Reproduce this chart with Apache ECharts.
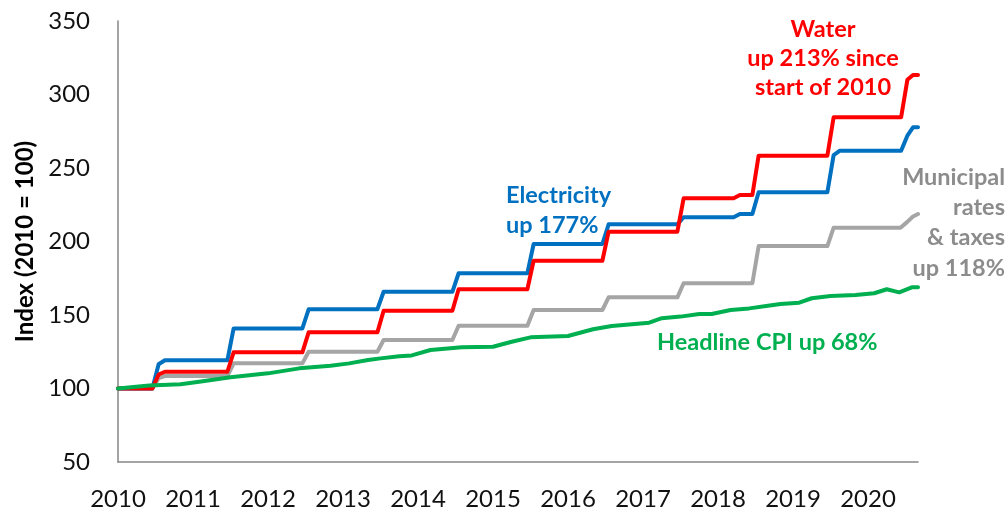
<!DOCTYPE html>
<html>
<head>
<meta charset="utf-8">
<script src="https://cdn.jsdelivr.net/npm/echarts@6/dist/echarts.min.js"></script>
<style>
  html, body { margin: 0; padding: 0; background: #fff; }
  #chart { width: 1008px; height: 512px; }
</style>
</head>
<body>
<div id="chart"></div>
<script>
// months counted from Jan 2010 (0) to Sep 2020 (128)
const lastMonth = 128
const yearLabels = ['2010', '2011', '2012', '2013', '2014', '2015', '2016', '2017', '2018', '2019', '2020']

// tariff levels and the month each level starts
const elecMonths = [0, 6.5, 7.5, 18.5, 30.5, 42.5, 54.5, 66.5, 78.5, 90.5, 99.5, 102.5, 114.5, 115.5, 126.3, 127.2]
const elecLevels = [100, 116.5, 119.2, 140.9, 153.9, 165.8, 178.4, 198.3, 211.7, 216.5, 218.7, 233.5, 258.8, 261.8, 272, 277.7]

const waterMonths = [0, 6.5, 7.5, 18.5, 30.5, 42.5, 54.5, 66.5, 78.5, 90.5, 99.5, 102.5, 114.5, 126.3, 127.2]
const waterLevels = [100, 109.5, 111.4, 124.6, 138.2, 152.9, 167.5, 186.9, 206.7, 229.4, 231.6, 258.4, 284.5, 310, 313.3]

const muniMonths = [0, 6.5, 7.5, 18.5, 30.5, 42.5, 54.5, 66.5, 78.5, 90.5, 102.5, 114.5, 126.2, 127.2, 128]
const muniLevels = [100, 107, 108.5, 117.1, 125, 133, 142.7, 153.4, 162, 171.6, 196.9, 209.4, 213, 217, 218.7]

// headline CPI readings
const cpiMonths = [0, 5, 10, 13, 18, 24, 29, 34, 37, 40, 42, 45, 47, 50, 55, 60, 63, 66, 72, 76, 79, 85, 87, 90, 93, 95, 98, 101, 104, 106, 109, 111, 114, 118, 121, 123, 125, 127, 128]
const cpiValues = [100, 102, 102.9, 104.6, 107.6, 110.3, 113.7, 115.5, 117.1, 119.4, 120.5, 122, 122.5, 126.2, 128, 128.4, 131.8, 134.8, 135.7, 140.3, 142.5, 144.8, 147.8, 148.9, 150.7, 150.7, 153.4, 154.5, 156.3, 157.5, 158.4, 161.4, 162.9, 163.6, 164.8, 167.5, 165.4, 168.8, 168.8]

// each level is held until a month before the next one starts
function steps(months, levels) {
  const out = []
  months.forEach((m, i) => {
    out.push([m, levels[i]])
    const next = i < months.length - 1 ? months[i + 1] - 1 : lastMonth
    if (next > m) out.push([next, levels[i]])
  })
  return out
}

const font = 'Lato, "Open Sans", sans-serif'

function line(name, data, color) {
  return {
    name: name,
    type: 'line',
    data: data,
    symbol: 'none',
    lineStyle: { color: color, width: 4, cap: 'round', join: 'round' },
    z: 2,
  }
}

// annotation text, x is the anchor for the given alignment
function note(lines, x, y, color, align, lh) {
  return {
    type: 'text',
    x: x,
    y: y,
    style: {
      text: lines.join('\n'),
      fill: color,
      font: 'bold 23.5px ' + font,
      lineHeight: lh,
      align: align,
      verticalAlign: 'top',
    },
  }
}

const chart = echarts.init(document.getElementById('chart'))
chart.setOption({
  animation: false,
  grid: { left: 118, right: 90, top: 21, bottom: 50 },
  xAxis: {
    type: 'value',
    min: 0,
    max: lastMonth,
    interval: 12,
    axisLine: { show: true, lineStyle: { color: '#868686', width: 1.5 } },
    axisTick: { show: false },
    splitLine: { show: false },
    axisLabel: {
      margin: 25,
      fontSize: 24,
      fontFamily: font,
      color: '#111',
      showMaxLabel: false,
      formatter: (v) => (v % 12 === 0 ? yearLabels[v / 12] : ''),
    },
  },
  yAxis: {
    type: 'value',
    min: 50,
    max: 350,
    interval: 50,
    name: 'Index (2010 = 100)',
    nameLocation: 'middle',
    nameRotate: 90,
    nameGap: 81,
    nameTextStyle: { fontSize: 24, fontWeight: 'bold', fontFamily: font, color: '#000' },
    axisLine: { show: true, lineStyle: { color: '#868686', width: 1.5 } },
    axisTick: { show: false },
    splitLine: { show: false },
    axisLabel: { margin: 28, fontSize: 24, fontFamily: font, color: '#111' },
  },
  series: [
    line('Municipal rates & taxes', steps(muniMonths, muniLevels), '#A5A5A5'),
    line('Electricity', steps(elecMonths, elecLevels), '#0070C0'),
    line('Water', steps(waterMonths, waterLevels), '#FF0000'),
    line('Headline CPI', cpiMonths.map((m, i) => [m, cpiValues[i]]), '#00B050'),
  ],
  graphic: [
    note(['Water', 'up 213% since', 'start of 2010'], 823, 15, '#FF0000', 'center', 29),
    note(['Electricity', 'up 177%'], 506, 180, '#0070C0', 'left', 30),
    note(['Municipal', 'rates', '& taxes', 'up 118%'], 1005, 162, '#8C8C8C', 'right', 30.3),
    note(['Headline CPI up 68%'], 657, 327, '#00B050', 'left', 30),
  ],
})
</script>
</body>
</html>
